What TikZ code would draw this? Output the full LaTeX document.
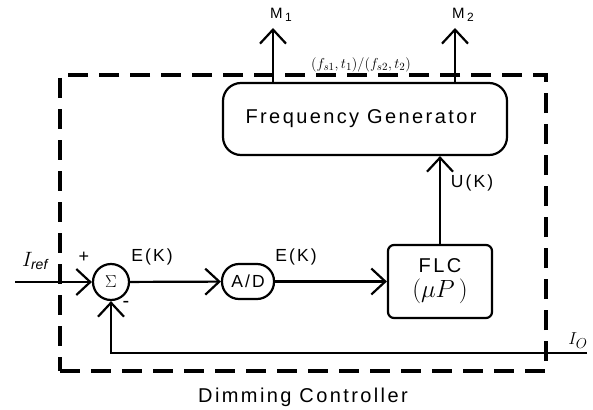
\documentclass[tikz,border=0pt]{standalone}
\usepackage{fontspec}
\setmainfont{Liberation Sans}[LetterSpace=12]
\usetikzlibrary{positioning,arrows.meta}

\begin{document}
\begin{tikzpicture}[
    x=1pt, y=-1pt,
    line width=2.2pt,
    arr/.style={-{Straight Barb[length=14pt,width=26pt,line width=2.2pt]}},
    box/.style={draw, rounded corners=6pt, align=center, inner sep=0pt},
    bigfont/.style={font=\fontsize{20}{24}\selectfont},
    lbl/.style={font=\fontsize{17.5}{20}\selectfont, inner sep=1pt},
    frame/.style={draw, line width=4.5pt, dash pattern=on 20pt off 11pt, minimum width=486pt, minimum height=296pt}
]
\useasboundingbox (0,0) rectangle (593,409);
\node[frame] (ctrl) at (303,223) {};
\node[bigfont, inner sep=1pt, below=13pt of ctrl] (ctrlname) {Dimming Controller};
\node[box, bigfont, rounded corners=18pt, minimum width=284pt, minimum height=72pt] (fg) at (365,119) {
Frequency Generator
};
\node[box, bigfont, minimum width=104pt, minimum height=73pt] (flc) at (440,281.5) {
FLC \\[1pt] {\fontsize{24}{26}\selectfont $(\mu P\,)$}
};
\node[box, lbl, rounded corners=17pt, minimum width=52pt, minimum height=35pt] (ad) at (248,281.5) {A/D};
\node[draw, circle, minimum size=36pt, inner sep=0pt, font=\fontsize{17}{19}\selectfont] (sum) at (111,282) {$\Sigma$};
\coordinate (iref) at (15,282);
\coordinate (io) at (587,353);
\coordinate (m1) at (273,28);
\coordinate (m2) at (455,28);
% labels
\node[lbl] (ek1) at (152,257) {E(K)};
\node[lbl] (ek2) at (296,257) {E(K)};
\node[lbl] (uk) at (472,183) {U(K)};
\node[font=\fontsize{18}{20}\selectfont] (plus) at (84,257) {+};
\node[font=\fontsize{20}{22}\selectfont] (minus) at (126,304) {-};
\node[font=\fontsize{20}{22}\selectfont] (ireflbl) at (35,261) {$I_{\mathit{ref}}$};
\node[font=\fontsize{19}{22}\selectfont] (iolbl) at (578,341) {$I_O$};
\node[font=\fontsize{15}{17}\selectfont] (m1lbl) at (281,15) {M\,\raisebox{-3pt}{\fontsize{12}{14}\selectfont 1}};
\node[font=\fontsize{15}{17}\selectfont] (m2lbl) at (463,15) {M\,\raisebox{-3pt}{\fontsize{12}{14}\selectfont 2}};
\node[font=\fontsize{15}{17}\selectfont, inner sep=0pt] (freq) at (361,65) {$(f_{s1},t_1)/(f_{s2},t_2)$};
% connectors
\draw[arr] (iref) -- (sum.west);
\draw[arr] (sum) -- (ad);
\draw[arr] (ad) -- (flc);
\draw[arr] (flc) -- (flc |- fg.south);
\draw[arr] (m1 |- fg.north) -- (m1);
\draw[arr] (m2 |- fg.north) -- (m2);
\draw[arr] (io) -| (sum.south);
\end{tikzpicture}
\end{document}
